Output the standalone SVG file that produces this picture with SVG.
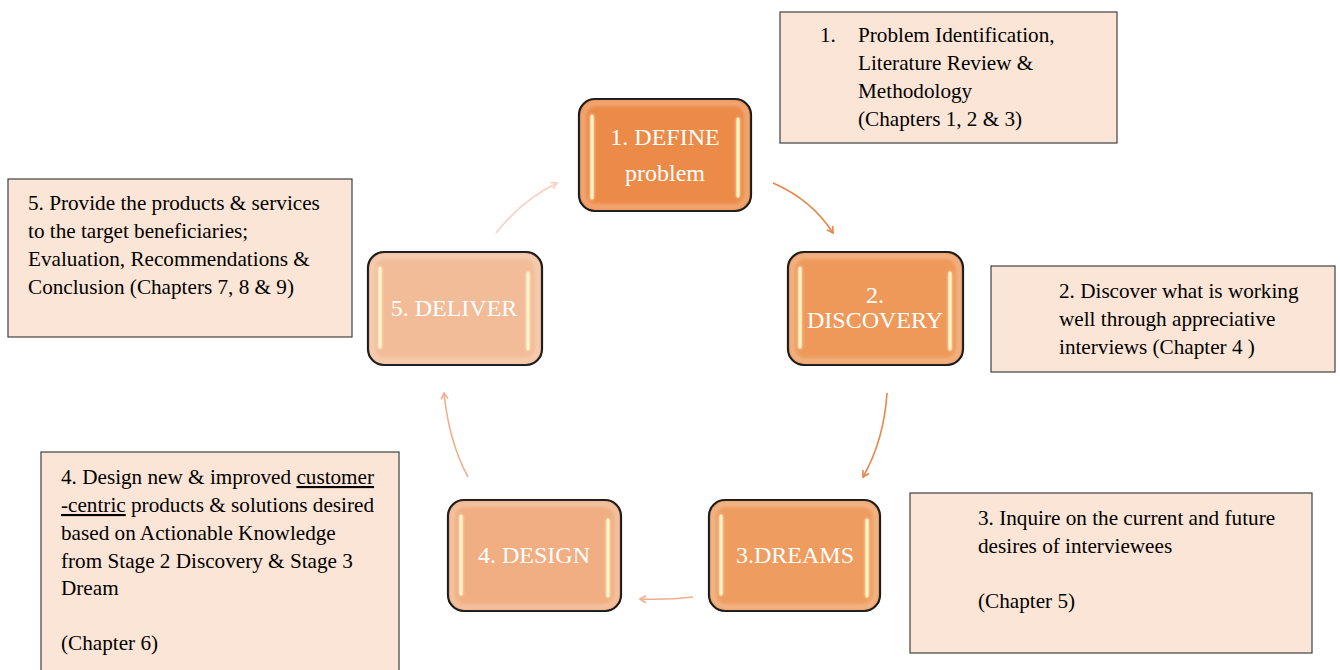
<svg xmlns="http://www.w3.org/2000/svg" width="1340" height="670" viewBox="0 0 1340 670">
<defs>
<style>
.node{stroke:#111;stroke-width:2.2}
.inner{fill:none;stroke:#fff;stroke-opacity:0.35;stroke-width:4;filter:url(#blur)}
.hl{stroke:#FFF3C8;stroke-width:3;stroke-linecap:round;filter:url(#glow)}
.nt{font-family:"Liberation Serif","Times New Roman",Tinos,"DejaVu Serif",serif;font-size:24px;fill:#fff;text-anchor:middle}
.box{fill:#FBE5D6;stroke:#404040;stroke-width:1.2}
.bt{font-family:"Liberation Serif","Times New Roman",Tinos,"DejaVu Serif",serif;font-size:21.2px;fill:#000}
.c{fill:none;stroke-width:1.6}
</style>
<filter id="blur" x="-10%" y="-10%" width="120%" height="120%"><feGaussianBlur stdDeviation="2"/></filter>
<filter id="glow" filterUnits="userSpaceOnUse" x="0" y="0" width="1340" height="670"><feGaussianBlur stdDeviation="1.5" result="b"/><feMerge><feMergeNode in="b"/><feMergeNode in="SourceGraphic"/></feMerge></filter>
<marker id="a1" markerWidth="10" markerHeight="10" refX="7" refY="5" orient="auto" markerUnits="userSpaceOnUse"><path d="M1,1.5 L7,5 L1,8.5" fill="none" stroke="#E8854A" stroke-width="1.6"/></marker>
<marker id="a2" markerWidth="10" markerHeight="10" refX="7" refY="5" orient="auto" markerUnits="userSpaceOnUse"><path d="M1,1.5 L7,5 L1,8.5" fill="none" stroke="#F2AE8C" stroke-width="1.6"/></marker>
<marker id="a3" markerWidth="10" markerHeight="10" refX="7" refY="5" orient="auto" markerUnits="userSpaceOnUse"><path d="M1,1.5 L7,5 L1,8.5" fill="none" stroke="#F8CFC0" stroke-width="1.6"/></marker>
</defs>
<rect width="1340" height="670" fill="#fff"/>

<g id="connectors">
<path class="c" d="M773,183 Q812,200 833,233" stroke="#E8854A" marker-end="url(#a1)"/>
<path class="c" d="M887,393 Q884,440 863,477" stroke="#E8854A" marker-end="url(#a1)"/>
<path class="c" d="M693,597 Q668,600 640,599" stroke="#F2AE8C" marker-end="url(#a2)"/>
<path class="c" d="M468,477 Q449,442 444,393" stroke="#F2AE8C" marker-end="url(#a2)"/>
<path class="c" d="M496,233 Q522,200 557,183" stroke="#F8CFC0" marker-end="url(#a3)"/>
</g>

<g id="node1">
<rect class="node" x="579" y="99" width="172" height="112" rx="16" fill="#EC8A48"/>
<rect class="inner" x="583" y="103" width="164" height="104" rx="13"/>
<line class="hl" x1="592" y1="116" x2="592" y2="198"/>
<line class="hl" x1="738" y1="119" x2="738" y2="196"/>
<text class="nt" x="665" y="145">1. DEFINE</text>
<text class="nt" x="665" y="181">problem</text>
</g>

<g id="node2">
<rect class="node" x="788" y="252" width="175" height="113" rx="16" fill="#EE995A"/>
<rect class="inner" x="792" y="256" width="167" height="105" rx="13"/>
<line class="hl" x1="800" y1="268" x2="800" y2="347"/>
<line class="hl" x1="950" y1="273" x2="950" y2="349"/>
<text class="nt" x="875" y="303">2.</text>
<text class="nt" x="875" y="328">DISCOVERY</text>
</g>

<g id="node3">
<rect class="node" x="709" y="500" width="171" height="111" rx="16" fill="#EE9C5F"/>
<rect class="inner" x="713" y="504" width="163" height="103" rx="13"/>
<line class="hl" x1="721" y1="516" x2="721" y2="594"/>
<line class="hl" x1="867" y1="520" x2="867" y2="596"/>
<text class="nt" x="795" y="563">3.DREAMS</text>
</g>

<g id="node4">
<rect class="node" x="448" y="500" width="173" height="111" rx="16" fill="#F0AE82"/>
<rect class="inner" x="452" y="504" width="165" height="103" rx="13"/>
<line class="hl" x1="461" y1="516" x2="461" y2="594"/>
<line class="hl" x1="608" y1="520" x2="608" y2="596"/>
<text class="nt" x="534" y="563">4. DESIGN</text>
</g>

<g id="node5">
<rect class="node" x="368" y="252" width="174" height="113" rx="16" fill="#F2BC98"/>
<rect class="inner" x="372" y="256" width="166" height="105" rx="13"/>
<line class="hl" x1="380" y1="268" x2="380" y2="347"/>
<line class="hl" x1="528" y1="273" x2="528" y2="349"/>
<text class="nt" x="454" y="316">5. DELIVER</text>
</g>

<g id="box1">
<rect class="box" x="780" y="12" width="337" height="131"/>
<text class="bt" x="820" y="42">1.</text>
<text class="bt" x="858" y="42">Problem Identification,</text>
<text class="bt" x="858" y="70">Literature Review &amp;</text>
<text class="bt" x="858" y="98">Methodology</text>
<text class="bt" x="858" y="126">(Chapters 1, 2 &amp; 3)</text>
</g>

<g id="box2">
<rect class="box" x="991" y="266" width="344" height="106"/>
<text class="bt" x="1059" y="298">2. Discover what is working</text>
<text class="bt" x="1059" y="326">well through appreciative</text>
<text class="bt" x="1059" y="354">interviews (Chapter 4 )</text>
</g>

<g id="box3">
<rect class="box" x="910" y="493" width="402" height="160"/>
<text class="bt" x="978" y="525">3. Inquire on the current and future</text>
<text class="bt" x="978" y="553">desires of interviewees</text>
<text class="bt" x="978" y="608">(Chapter 5)</text>
</g>

<g id="box4">
<rect class="box" x="41" y="452" width="358" height="225"/>
<text class="bt" x="61" y="484">4. Design new &amp; improved <tspan text-decoration="underline">customer</tspan></text>
<text class="bt" x="61" y="512"><tspan text-decoration="underline">-centric</tspan> products &amp; solutions desired</text>
<text class="bt" x="61" y="540">based on Actionable Knowledge</text>
<text class="bt" x="61" y="568">from Stage 2 Discovery &amp; Stage 3</text>
<text class="bt" x="61" y="595">Dream</text>
<text class="bt" x="61" y="650">(Chapter 6)</text>
</g>

<g id="box5">
<rect class="box" x="8" y="179" width="344" height="158"/>
<text class="bt" x="28" y="210">5. Provide the products &amp; services</text>
<text class="bt" x="28" y="238">to the target beneficiaries;</text>
<text class="bt" x="28" y="266">Evaluation, Recommendations &amp;</text>
<text class="bt" x="28" y="294">Conclusion (Chapters 7, 8 &amp; 9)</text>
</g>
</svg>
